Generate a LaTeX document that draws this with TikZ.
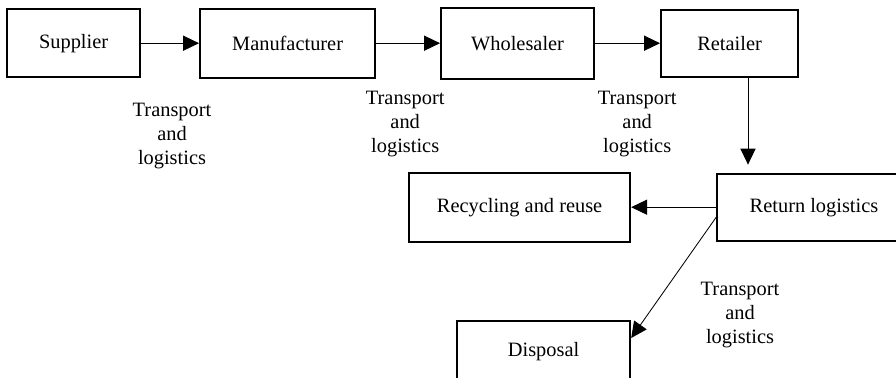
\documentclass[tikz,border=0pt]{standalone}
\usepackage{fontspec}
\setmainfont{Liberation Serif}
\usepackage{tikz}
\usetikzlibrary{arrows.meta, positioning, calc}

\begin{document}
\begin{tikzpicture}[
    stage/.style={rectangle, draw=black, line width=1.4pt, fill=white, font=\fontsize{14.5}{17}\selectfont, align=center, inner sep=0pt},
    arrow/.style={-{Triangle[length=4mm, width=3.8mm]}, line width=0.6pt, color=black},
    tlabel/.style={font=\fontsize{14.5}{17}\selectfont, align=center}
]
\useasboundingbox (0,0) rectangle (22.4,-9.45);

\node[stage, minimum width=3.33cm, minimum height=1.70cm] (sup) at (1.84,-1.08) {Supplier};
\node[stage, minimum width=4.38cm, minimum height=1.73cm] (man) at (7.19,-1.08) {Manufacturer};
\node[stage, minimum width=3.83cm, minimum height=1.78cm] (who) at (12.94,-1.08) {Wholesaler};
\node[stage, minimum width=3.43cm, minimum height=1.68cm] (ret) at (18.24,-1.08) {Retailer};
\node[stage, minimum width=4.84cm, minimum height=1.68cm] (rtn) at (20.35,-5.18) {Return logistics};
\node[stage, minimum width=5.53cm, minimum height=1.73cm] (rec) at (12.99,-5.18) {Recycling and reuse};
\node[stage, minimum width=4.33cm, minimum height=1.55cm] (dis) at (13.59,-8.80) {Disposal};

\draw[arrow] (sup) -- (man);
\draw[arrow] (man) -- (who);
\draw[arrow] (who) -- (ret);
\draw[arrow, shorten >=0.2cm] ([xshift=0.46cm]ret.south) -- ([xshift=0.46cm]ret.south |- rtn.north);
\draw[arrow] (rtn.west) -- (rec);
\draw[arrow] ([yshift=-0.25cm]rtn.west) -- ([yshift=-0.45cm]dis.north east);

\node[tlabel] (t1) at (4.30,-3.40) {Transport\\and\\logistics};
\node[tlabel] (t2) at (10.13,-3.10) {Transport\\and\\logistics};
\node[tlabel] (t3) at (15.93,-3.10) {Transport\\and\\logistics};
\node[tlabel] (t4) at (18.50,-7.88) {Transport\\and\\logistics};

\end{tikzpicture}
\end{document}
